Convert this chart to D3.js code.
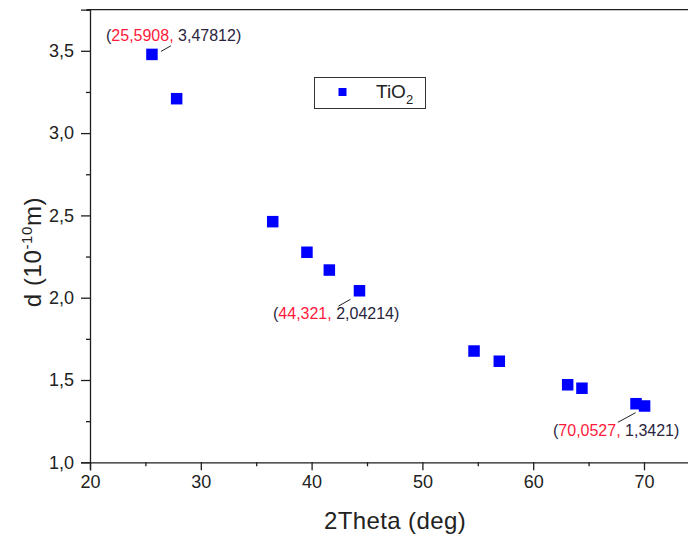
<!DOCTYPE html>
<html>
<head>
<meta charset="utf-8">
<script src="https://cdn.jsdelivr.net/npm/d3@7"></script>
<style>
  html, body { margin: 0; padding: 0; background: #fff; }
  svg { display: block; font-family: "Liberation Sans", Arial, sans-serif; }
</style>
</head>
<body>
<svg id="chart" width="688" height="536"></svg>
<script>
// ---- data ----
const twoTheta = [25.5908, 27.82, 36.49, 39.58, 41.60, 44.321, 54.66, 56.94, 63.11, 64.40, 69.28, 70.0527];
const dSpacing = [3.47812, 3.209, 2.462, 2.276, 2.168, 2.04214, 1.676, 1.614, 1.471, 1.450, 1.356, 1.3421];
const seriesName = "TiO";
const xTickValues = [20, 30, 40, 50, 60, 70];
const yTickValues = [1.0, 1.5, 2.0, 2.5, 3.0, 3.5];
const annotX = [25.5908, 44.321, 70.0527];
const annotY = [3.47812, 2.04214, 1.3421];
const annotXLabel = ["25,5908", "44,321", "70,0527"];
const annotYLabel = ["3,47812", "2,04214", "1,3421"];

// ---- layout ----
const svg = d3.select("#chart");
const x0 = 90, yBottom = 462.3;
const x = d3.scaleLinear().domain([20, 75]).range([x0, x0 + 55 * 11.08]);
const y = d3.scaleLinear().domain([1.0, 3.75]).range([yBottom, yBottom - 2.75 * 164.6]);
const ink = "#1e1e1e";
const fmt = v => d3.format(".1f")(v).replace(".", ",");

// frame top line
svg.append("line").attr("x1", x0 - 3).attr("x2", 688).attr("y1", y(3.75)).attr("y2", y(3.75))
  .attr("stroke", ink).attr("stroke-width", 1.3);

// x axis
const xAxis = d3.axisBottom(x).tickValues(xTickValues).tickSize(8).tickPadding(5).tickFormat(d3.format("d"));
const gx = svg.append("g").attr("transform", `translate(0,${yBottom})`).call(xAxis);
gx.select(".domain").attr("stroke", ink).attr("stroke-width", 1.3);
gx.selectAll(".tick line").attr("stroke", ink).attr("stroke-width", 1.3);
gx.selectAll(".tick text").attr("font-size", 18).attr("fill", "#222").attr("font-family", "Liberation Sans, Arial");
const xMinor = d3.axisBottom(x).tickValues([25, 35, 45, 55, 65, 75]).tickSize(4).tickFormat("");
const gxm = svg.append("g").attr("transform", `translate(0,${yBottom})`).call(xMinor);
gxm.select(".domain").remove();
gxm.selectAll(".tick line").attr("stroke", ink).attr("stroke-width", 1.3);

// y axis
const yAxis = d3.axisLeft(y).tickValues(yTickValues).tickSize(9).tickPadding(7).tickFormat(fmt);
const gy = svg.append("g").attr("transform", `translate(${x0},0)`).call(yAxis);
gy.select(".domain").attr("stroke", ink).attr("stroke-width", 1.3);
gy.selectAll(".tick line").attr("stroke", ink).attr("stroke-width", 1.3);
gy.selectAll(".tick text").attr("font-size", 18).attr("fill", "#222").attr("font-family", "Liberation Sans, Arial");
const yMinor = d3.axisLeft(y).tickValues([1.25, 1.75, 2.25, 2.75, 3.25, 3.75]).tickSize(4).tickFormat("");
const gym = svg.append("g").attr("transform", `translate(${x0},0)`).call(yMinor);
gym.select(".domain").remove();
gym.selectAll(".tick line").attr("stroke", ink).attr("stroke-width", 1.3);

// axis titles
svg.append("text").attr("x", 395).attr("y", 529).attr("text-anchor", "middle")
  .attr("font-size", 24).attr("letter-spacing", 0.4).attr("fill", "#222").text("2Theta (deg)");
const yt = svg.append("text").attr("transform", "translate(41,252) rotate(-90)")
  .attr("text-anchor", "middle").attr("font-size", 24).attr("letter-spacing", 0.6).attr("fill", "#222");
yt.append("tspan").text("d (10");
yt.append("tspan").attr("font-size", 15).attr("dy", -9).text("-10");
yt.append("tspan").attr("dy", 9).text("m)");

// points
const ms = 11.5;
svg.append("g").selectAll("rect").data(twoTheta.map((t, i) => [t, dSpacing[i]])).join("rect")
  .attr("x", d => x(d[0]) - ms / 2).attr("y", d => y(d[1]) - ms / 2)
  .attr("width", ms).attr("height", ms).attr("fill", "#0000ff");

// annotations
const annotTextPos = [[106, 41], [273, 319], [553, 436]];
const leader = [[[9, -3], [19, -8.6]], [[-21, 15.3], [-9, 8.6]], [[-26.7, 16.3], [-9, 6.7]]];
annotX.forEach((ax, i) => {
  const px = x(ax), py = y(annotY[i]);
  svg.append("line")
    .attr("x1", px + leader[i][0][0]).attr("y1", py + leader[i][0][1])
    .attr("x2", px + leader[i][1][0]).attr("y2", py + leader[i][1][1])
    .attr("stroke", "#222").attr("stroke-width", 1);
  const t = svg.append("text").attr("x", annotTextPos[i][0]).attr("y", annotTextPos[i][1])
    .attr("font-size", 16).attr("fill", "#2a2440");
  t.append("tspan").text("(");
  t.append("tspan").attr("fill", "#ff1a3c").text(annotXLabel[i] + ",");
  t.append("tspan").text(" " + annotYLabel[i] + ")");
});

// legend
svg.append("rect").attr("x", 314.5).attr("y", 77.5).attr("width", 111).attr("height", 31)
  .attr("fill", "none").attr("stroke", "#333").attr("stroke-width", 1);
svg.append("rect").attr("x", 338.5).attr("y", 88).attr("width", 8).attr("height", 8).attr("fill", "#0000ff");
const lt = svg.append("text").attr("x", 376).attr("y", 98).attr("font-size", 19).attr("fill", "#222");
lt.append("tspan").text(seriesName);
lt.append("tspan").attr("font-size", 13).attr("dy", 6).text("2");
</script>
</body>
</html>
